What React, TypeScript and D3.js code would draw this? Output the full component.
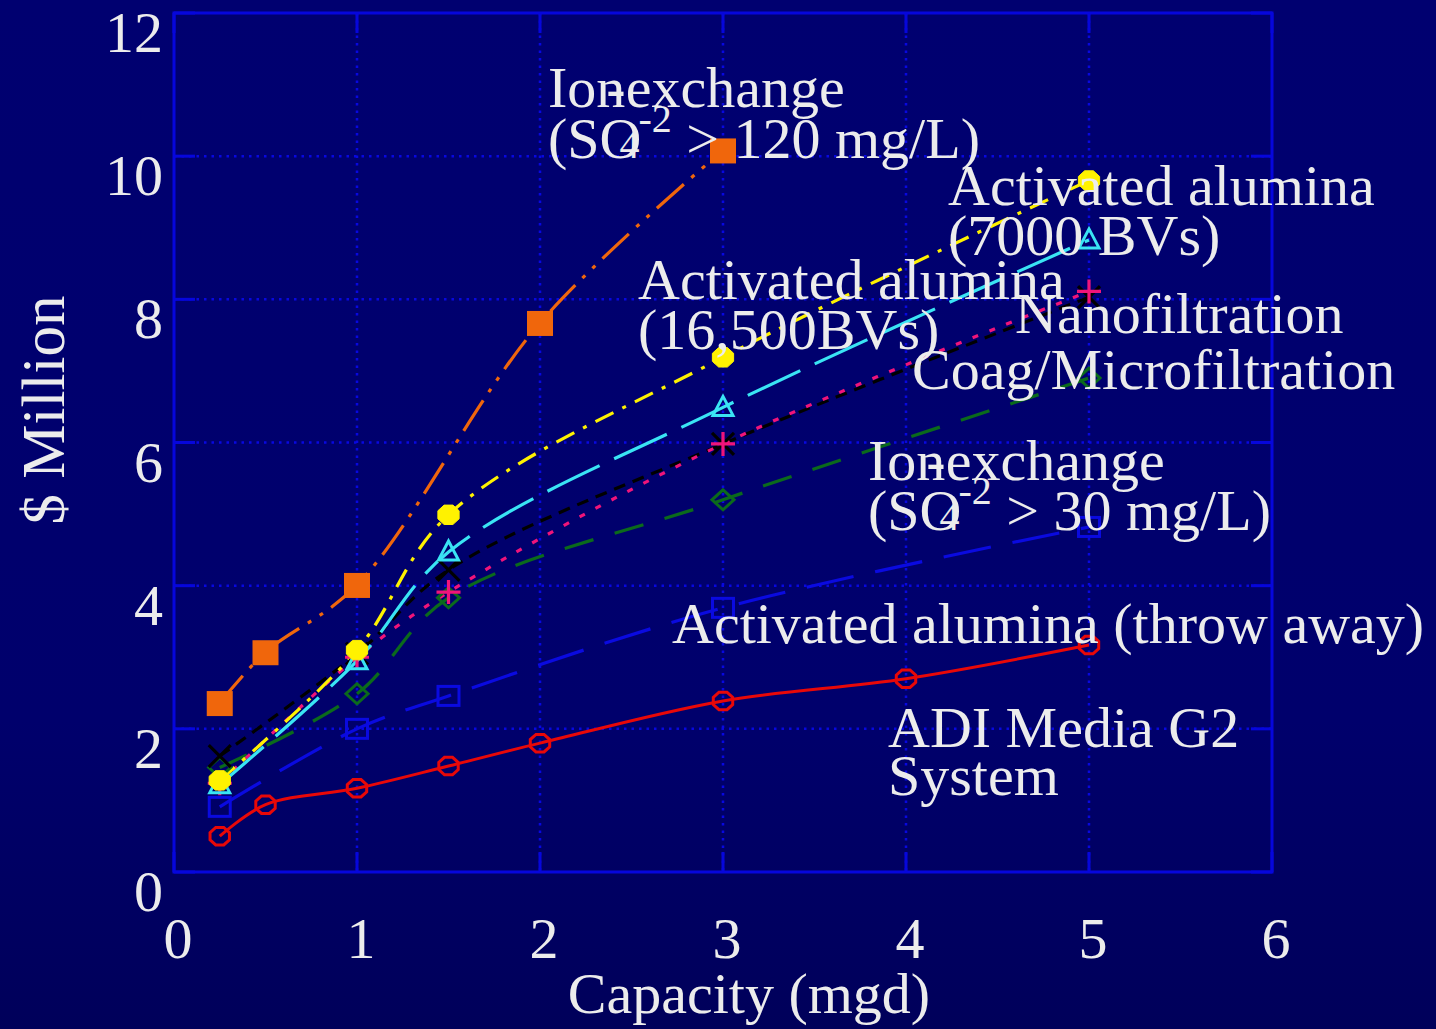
import React from "react";
import * as d3 from "d3";

// Plant capacity (mgd) and capital cost ($ Million) per treatment process
const adiX = [0.25, 0.5, 1, 1.5, 2, 3, 4, 5];
const adiY = [0.5, 0.94, 1.17, 1.48, 1.8, 2.39, 2.7, 3.17];

const aaThrowX = [0.25, 1, 1.5, 3, 5];
const aaThrowY = [0.91, 2.0, 2.46, 3.69, 4.82];

const coagX = [0.25, 1, 1.5, 3, 5];
const coagY = [1.46, 2.49, 3.83, 5.2, 6.9];

const nfBlackX = [0.25, 1, 1.5, 3, 5];
const nfBlackY = [1.62, 3.05, 4.22, 5.98, 8.03];

const nfX = [0.25, 1, 1.5, 3, 5];
const nfY = [1.24, 3.0, 3.91, 5.98, 8.11];

const aa7000X = [0.25, 1, 1.5, 3, 5];
const aa7000Y = [1.22, 2.95, 4.47, 6.49, 8.83];

const aa16500X = [0.25, 1, 1.5, 3, 5];
const aa16500Y = [1.28, 3.1, 4.99, 7.19, 9.66];

const ix120X = [0.25, 0.5, 1, 2, 3];
const ix120Y = [2.36, 3.07, 4.01, 7.67, 10.08];

const xTicks = [0, 1, 2, 3, 4, 5, 6];
const yTicks = [0, 2, 4, 6, 8, 10, 12];

type Shape = "octagon" | "square" | "diamond" | "x" | "plus" | "triangle" | "dot" | "bigsquare";

interface Series {
  xs: number[];
  ys: number[];
  color: string;
  dash: string;
  width: number;
  shape: Shape;
}

const series: Series[] = [
  { xs: adiX, ys: adiY, color: "#e80808", dash: "none", width: 3, shape: "octagon" },
  { xs: aaThrowX, ys: aaThrowY, color: "#0a0ae0", dash: "48 22", width: 3.2, shape: "square" },
  { xs: coagX, ys: coagY, color: "#0b6a1c", dash: "30 22", width: 3.2, shape: "diamond" },
  { xs: nfBlackX, ys: nfBlackY, color: "#000000", dash: "12 8", width: 3.2, shape: "x" },
  { xs: nfX, ys: nfY, color: "#f0147a", dash: "6 12", width: 3.2, shape: "plus" },
  { xs: aa7000X, ys: aa7000Y, color: "#3ae4f4", dash: "58 16", width: 3.2, shape: "triangle" },
  { xs: aa16500X, ys: aa16500Y, color: "#fff200", dash: "20 10 4 10", width: 3.2, shape: "dot" },
  { xs: ix120X, ys: ix120Y, color: "#f0660c", dash: "36 10 4 10 4 10", width: 3.2, shape: "bigsquare" },
];

const W = 1436;
const H = 1029;
const plot = { left: 174, right: 1272, top: 13, bottom: 872 };
const FONT = "'Liberation Serif', 'Times New Roman', serif";
const TEXT = "#ececec";
const FRAME = "#0606dc";
const GRID = "#0808e0";

function Marker({ x, y, shape, color }: { x: number; y: number; shape: Shape; color: string }) {
  const s = 10.5;
  if (shape === "octagon") {
    const pts = d3.range(8).map((i) => {
      const a = (Math.PI / 8) * (2 * i + 1);
      return [x + s * Math.cos(a), y + s * 0.9 * Math.sin(a)];
    });
    return <polygon points={pts.map((p) => p.join(",")).join(" ")} fill="none" stroke={color} strokeWidth={3} />;
  }
  if (shape === "square") {
    return <rect x={x - s} y={y - s + 1} width={2 * s} height={2 * s - 2} fill="none" stroke={color} strokeWidth={3} />;
  }
  if (shape === "diamond") {
    return (
      <polygon
        points={`${x},${y - 10} ${x + 11},${y} ${x},${y + 10} ${x - 11},${y}`}
        fill="none"
        stroke={color}
        strokeWidth={3}
      />
    );
  }
  if (shape === "x") {
    return (
      <path d={`M${x - 11},${y - 11}L${x + 11},${y + 11}M${x - 11},${y + 11}L${x + 11},${y - 11}`} stroke={color} strokeWidth={3.2} />
    );
  }
  if (shape === "plus") {
    return <path d={`M${x - 12},${y}L${x + 12},${y}M${x},${y - 12}L${x},${y + 12}`} stroke={color} strokeWidth={3.2} />;
  }
  if (shape === "triangle") {
    return (
      <polygon
        points={`${x},${y - 11} ${x + 10},${y + 8} ${x - 10},${y + 8}`}
        fill="none"
        stroke={color}
        strokeWidth={3}
      />
    );
  }
  if (shape === "dot") {
    const pts = d3.range(8).map((i) => {
      const a = (Math.PI / 8) * (2 * i + 1);
      return [x + 11.5 * Math.cos(a), y + 10.5 * Math.sin(a)];
    });
    return <polygon points={pts.map((p) => p.join(",")).join(" ")} fill={color} stroke={color} strokeWidth={1} />;
  }
  return <rect x={x - 13} y={y - 12} width={26} height={25} fill={color} />;
}

// "Ion-exchange" with the hyphen pulled back over the n
function IonExchange({ x, y }: { x: number; y: number }) {
  return (
    <text x={x} y={y} fill={TEXT} fontFamily={FONT} fontSize={58}>
      <tspan>Ion</tspan>
      <tspan dx={-19}>-</tspan>
      <tspan>exchange</tspan>
    </text>
  );
}

// Sulfate concentration line with the ion charge set small and raised
function Sulfate({ x, y, rest }: { x: number; y: number; rest: string }) {
  return (
    <text x={x} y={y} fill={TEXT} fontFamily={FONT} fontSize={58}>
      <tspan>(SO</tspan>
      <tspan dx={-22} fontSize={40}>4</tspan>
      <tspan dx={-1} dy={-26} fontSize={40}>-2</tspan>
      <tspan dy={26}>{rest}</tspan>
    </text>
  );
}

export default function App() {
  const xScale = d3.scaleLinear().domain([0, 6]).range([plot.left, plot.right]);
  const yScale = d3.scaleLinear().domain([0, 12]).range([plot.bottom, plot.top]);
  const line = d3
    .line<[number, number]>()
    .x((d) => xScale(d[0]))
    .y((d) => yScale(d[1]))
    .curve(d3.curveCatmullRom.alpha(0.5));

  React.useEffect(() => {
    document.body.style.margin = "0";
  }, []);

  const label = (x: number, y: number, t: string) => (
    <text x={x} y={y} fill={TEXT} fontFamily={FONT} fontSize={58}>
      {t}
    </text>
  );

  return (
    <svg width={W} height={H} style={{ display: "block", position: "fixed", left: 0, top: 0 }}>
      <defs>
        <linearGradient id="bg" x1="0" y1="0" x2="0" y2="1">
          <stop offset="0" stopColor="#000070" />
          <stop offset="0.7" stopColor="#00006c" />
          <stop offset="1" stopColor="#00005a" />
        </linearGradient>
      </defs>
      <rect x={0} y={0} width={W} height={H} fill="url(#bg)" />

      {/* dotted grid */}
      {xTicks.slice(1, -1).map((t) => (
        <line
          key={"gx" + t}
          x1={xScale(t)}
          x2={xScale(t)}
          y1={plot.top}
          y2={plot.bottom}
          stroke={GRID}
          strokeWidth={2.5}
          strokeDasharray="2.5 5"
        />
      ))}
      {yTicks.slice(1, -1).map((t) => (
        <line
          key={"gy" + t}
          x1={plot.left}
          x2={plot.right}
          y1={yScale(t)}
          y2={yScale(t)}
          stroke={GRID}
          strokeWidth={2.5}
          strokeDasharray="2.5 5"
        />
      ))}

      {/* inward tick marks */}
      {yTicks.map((t) => (
        <g key={"ty" + t}>
          <line x1={plot.left} x2={plot.left + 21} y1={yScale(t)} y2={yScale(t)} stroke={FRAME} strokeWidth={3} />
          <line x1={plot.right - 21} x2={plot.right} y1={yScale(t)} y2={yScale(t)} stroke={FRAME} strokeWidth={3} />
        </g>
      ))}
      {xTicks.map((t) => (
        <g key={"tx" + t}>
          <line x1={xScale(t)} x2={xScale(t)} y1={plot.bottom} y2={plot.bottom - 20} stroke={FRAME} strokeWidth={3} />
          <line x1={xScale(t)} x2={xScale(t)} y1={plot.top} y2={plot.top + 20} stroke={FRAME} strokeWidth={3} />
        </g>
      ))}

      <rect
        x={plot.left}
        y={plot.top}
        width={plot.right - plot.left}
        height={plot.bottom - plot.top}
        fill="none"
        stroke={FRAME}
        strokeWidth={3}
      />

      {/* series lines */}
      {series.map((s, i) => (
        <path
          key={"l" + i}
          d={line(s.xs.map((x, j) => [x, s.ys[j]] as [number, number])) || ""}
          fill="none"
          stroke={s.color}
          strokeWidth={s.width}
          strokeDasharray={s.dash}
        />
      ))}
      {/* series markers */}
      {series.map((s, i) => (
        <g key={"m" + i}>
          {s.xs.map((x, j) => (
            <Marker key={j} x={xScale(x)} y={yScale(s.ys[j])} shape={s.shape} color={s.color} />
          ))}
        </g>
      ))}

      {/* tick labels */}
      {yTicks.map((t) => (
        <text
          key={"yl" + t}
          x={163}
          y={yScale(t) + 39}
          textAnchor="end"
          fill={TEXT}
          fontFamily={FONT}
          fontSize={58}
        >
          {t}
        </text>
      ))}
      {xTicks.map((t) => (
        <text
          key={"xl" + t}
          x={xScale(t) + 4}
          y={958}
          textAnchor="middle"
          fill={TEXT}
          fontFamily={FONT}
          fontSize={58}
        >
          {t}
        </text>
      ))}

      {/* axis titles */}
      <text x={749} y={1013} textAnchor="middle" fill={TEXT} fontFamily={FONT} fontSize={58}>
        Capacity (mgd)
      </text>
      <text
        transform="translate(64,410) rotate(-90)"
        textAnchor="middle"
        fill={TEXT}
        fontFamily={FONT}
        fontSize={61}
      >
        $ Million
      </text>

      {/* process labels */}
      <IonExchange x={548} y={107} />
      <Sulfate x={548} y={158} rest=" > 120 mg/L)" />
      {label(948, 205, "Activated alumina")}
      {label(948, 255, "(7000 BVs)")}
      {label(638, 299, "Activated alumina")}
      {label(638, 349, "(16,500BVs)")}
      {label(1015, 333, "Nanofiltration")}
      {label(912, 389, "Coag/Microfiltration")}
      <IonExchange x={868} y={480} />
      <Sulfate x={868} y={530} rest=" > 30 mg/L)" />
      {label(672, 643, "Activated alumina (throw away)")}
      {label(888, 747, "ADI Media G2")}
      {label(888, 795, "System")}
    </svg>
  );
}
